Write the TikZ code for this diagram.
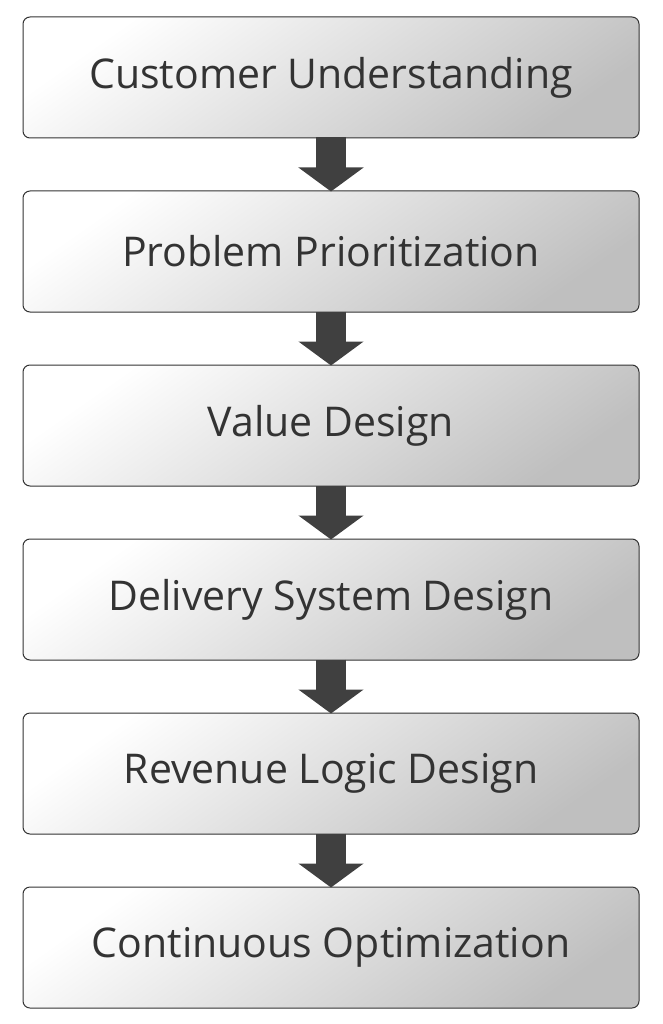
\documentclass[tikz,border=0pt]{standalone}
\usepackage{fontspec}
\setmainfont{Open Sans}
\usetikzlibrary{positioning,arrows.meta}
\tikzset{
  stage/.style={draw=black!80, line width=1pt, rounded corners=7pt, minimum width=616pt, minimum height=121pt,
    shading=axis, top color=white, bottom color=black!25, shading angle=35,
    font=\fontsize{41}{46}\selectfont, text=black!80},
  flow/.style={draw=black!75, line width=30pt, -{Triangle[width=64pt,length=24pt]}, shorten <=-1pt, shorten >=-1pt}
}
\begin{document}
\begin{tikzpicture}[x=1pt,y=1pt]
\useasboundingbox (0,0) rectangle (662,-1024);
\node[stage] at (331,-77.5) (s1) {Customer Understanding};
\node[stage] (s2) [below=52pt of s1] {Problem Prioritization};
\node[stage] (s3) [below=52pt of s2] {Value Design};
\node[stage] (s4) [below=52pt of s3] {Delivery System Design};
\node[stage] (s5) [below=52pt of s4] {Revenue Logic Design};
\node[stage] (s6) [below=52pt of s5] {Continuous Optimization};
\foreach \a/\b in {s1/s2,s2/s3,s3/s4,s4/s5,s5/s6}
  \draw[flow] (\a.south) -- (\b.north);
\end{tikzpicture}
\end{document}
